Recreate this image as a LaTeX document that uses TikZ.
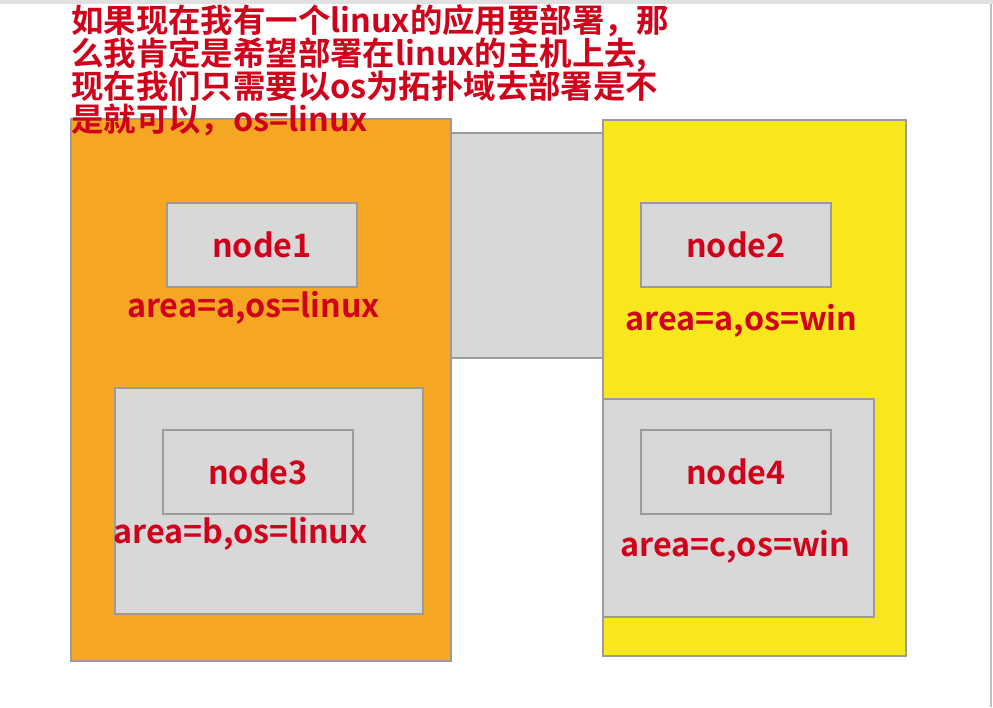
\documentclass[tikz,border=0pt]{standalone}
\usepackage{fontspec}
\setmainfont{Noto Sans CJK SC}[BoldFont={* Bold}]
\definecolor{txtred}{HTML}{D0021B}
\definecolor{orangebg}{HTML}{F5A623}
\definecolor{yellowbg}{HTML}{F8E71C}
\definecolor{boxgray}{HTML}{D8D8D8}
\definecolor{edgegray}{HTML}{9B9B9B}
\tikzset{
  region/.style={draw=edgegray, line width=1.2pt, inner sep=0pt, outer sep=0pt, anchor=north west},
  hostbox/.style={region, fill=boxgray},
  nodelabel/.style={text=txtred, font=\bfseries\fontsize{32.3}{32.3}\selectfont, inner sep=0pt},
  toptext/.style={text=txtred, font=\bfseries\fontsize{32.4}{32.4}\selectfont, inner sep=0pt, anchor=base west},
}
\begin{document}
\begin{tikzpicture}[x=1pt,y=-1pt]
\useasboundingbox (0,0) rectangle (993,707);
\fill[white] (0,0) rectangle (993,707);
\fill[black!12] (0,0) rectangle (993,4);
\draw[black!25, line width=1.5pt] (991,4) -- (991,707);
% regions
\node[region, fill=orangebg, minimum width=380pt, minimum height=542pt] (linux) at (71,119) {};
\node[hostbox, minimum width=152pt, minimum height=225pt] (link) at (451,133) {};
\node[region, fill=yellowbg, minimum width=303pt, minimum height=536pt] (win) at (603,120) {};
\node[hostbox, minimum width=308pt, minimum height=226pt] (areab) at (115,388) {};
\node[hostbox, minimum width=271pt, minimum height=218pt] (areac) at (603,399) {};
% nodes
\node[hostbox, minimum width=190pt, minimum height=84pt] (n1) at (167,203) {};
\node[hostbox, minimum width=190pt, minimum height=84pt] (n2) at (641,203) {};
\node[hostbox, minimum width=190pt, minimum height=84pt] (n3) at (163,430) {};
\node[hostbox, minimum width=190pt, minimum height=84pt] (n4) at (641,430) {};
\node[nodelabel] (n1t) at (n1.center) {node1};
\node[nodelabel] (n2t) at (n2.center) {node2};
\node[nodelabel] (n3t) at (n3.center) {node3};
\node[nodelabel] (n4t) at (n4.center) {node4};
% labels
\node[nodelabel, anchor=base] (l1) at (253.5,317) {area=a,os=linux};
\node[nodelabel, anchor=base] (l2) at (741.5,330) {area=a,os=win};
\node[nodelabel, anchor=base] (l3) at (240.5,543) {area=b,os=linux};
\node[nodelabel, anchor=base] (l4) at (735.5,556) {area=c,os=win};
% top text
\node[toptext] (t1) at (71,32) {如果现在我有一个linux的应用要部署，那};
\node[toptext] (t2) at (71,65) {么我肯定是希望部署在linux的主机上去,};
\node[toptext] (t3) at (71,98) {现在我们只需要以os为拓扑域去部署是不};
\node[toptext] (t4) at (71,131) {是就可以，os=linux};
\end{tikzpicture}
\end{document}
